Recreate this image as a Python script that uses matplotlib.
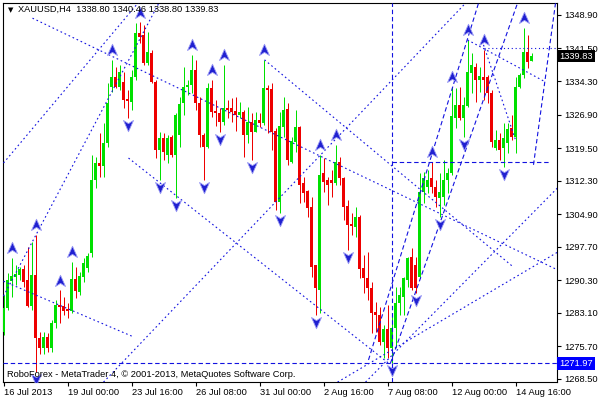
import numpy as np
import matplotlib
matplotlib.use("Agg")
import matplotlib.pyplot as plt
from matplotlib.path import Path
from matplotlib.transforms import ScaledTranslation, blended_transform_factory

# XAUUSD H4 candles, 16 Jul 2013 08:00 -> 15 Aug 2013 08:00
opens = [1278.9, 1284.2, 1290.1, 1291.0, 1291.5, 1292.8, 1290.3, 1284.6, 1291.5, 1277.5,
         1275.3, 1277.8, 1275.3, 1280.9, 1284.8, 1284.6, 1283.9, 1283.5, 1290.6, 1287.7,
         1291.0, 1293.0, 1296.3, 1312.4, 1316.2, 1315.5, 1320.6, 1333.0, 1335.2, 1333.0,
         1334.1, 1330.3, 1329.7, 1335.2, 1344.9, 1344.5, 1338.3, 1340.5, 1334.1, 1319.1,
         1321.7, 1317.9, 1321.9, 1317.9, 1322.4, 1329.5, 1333.0, 1333.4, 1336.7, 1329.5,
         1322.4, 1319.7, 1332.8, 1327.7, 1327.2, 1325.2, 1328.3, 1328.3, 1327.7, 1326.8,
         1327.5, 1322.4, 1325.2, 1323.1, 1325.7, 1325.0, 1332.8, 1332.6, 1323.3, 1307.6,
         1324.2, 1328.1, 1316.4, 1320.8, 1324.2, 1311.8, 1310.0, 1306.5, 1293.7, 1288.1,
         1314.0, 1312.4, 1312.4, 1311.8, 1316.4, 1312.9, 1306.7, 1302.7, 1302.1, 1304.3,
         1293.0, 1290.8, 1288.6, 1283.3, 1282.6, 1276.7, 1279.5, 1275.3, 1279.7, 1285.3,
         1286.6, 1290.3, 1295.4, 1293.7, 1291.0, 1309.8, 1310.9, 1312.9, 1310.9, 1308.5,
         1308.7, 1312.4, 1314.0, 1326.1, 1329.0, 1326.1, 1328.8, 1336.1, 1337.4, 1334.5,
         1335.2, 1335.2, 1331.7, 1319.5, 1321.3, 1319.5, 1320.6, 1323.9, 1321.9, 1333.0,
         1335.6, 1340.7, 1338.80]
highs = [1287.0, 1291.9, 1295.2, 1293.7, 1293.2, 1293.7, 1297.6, 1298.8, 1300.3, 1278.9,
         1278.9, 1278.7, 1281.5, 1285.9, 1288.1, 1286.6, 1285.3, 1294.3, 1293.2, 1292.1,
         1295.2, 1296.3, 1318.0, 1317.5, 1322.8, 1325.0, 1333.9, 1339.0, 1337.4, 1337.8,
         1336.3, 1332.3, 1336.7, 1347.1, 1347.3, 1346.7, 1345.1, 1341.2, 1334.5, 1323.1,
         1322.8, 1322.4, 1322.4, 1327.2, 1330.8, 1337.4, 1334.5, 1340.1, 1339.0, 1330.8,
         1322.8, 1333.9, 1334.6, 1330.1, 1328.3, 1337.9, 1330.1, 1330.6, 1330.8, 1329.7,
         1327.9, 1328.6, 1327.2, 1327.5, 1327.2, 1339.0, 1333.4, 1333.9, 1323.9, 1327.5,
         1330.8, 1329.5, 1321.9, 1327.9, 1324.4, 1313.1, 1310.2, 1308.7, 1293.7, 1318.0,
         1317.3, 1313.1, 1314.7, 1320.2, 1317.5, 1313.1, 1308.0, 1305.2, 1306.5, 1304.7,
         1295.9, 1296.5, 1289.9, 1285.5, 1284.4, 1280.4, 1284.8, 1282.6, 1288.8, 1288.8,
         1291.0, 1295.4, 1297.4, 1295.4, 1314.0, 1314.2, 1314.7, 1316.4, 1312.4, 1314.0,
         1316.9, 1315.1, 1333.0, 1332.8, 1333.0, 1330.8, 1343.4, 1340.5, 1338.3, 1337.4,
         1341.2, 1335.6, 1332.3, 1323.5, 1322.8, 1325.0, 1325.0, 1326.8, 1335.2, 1336.1,
         1346.0, 1344.5, 1340.46]
lows = [1278.2, 1283.7, 1286.6, 1289.2, 1290.3, 1288.8, 1284.4, 1283.7, 1270.0, 1274.0,
        1274.0, 1274.5, 1274.5, 1279.7, 1280.9, 1282.6, 1282.0, 1283.1, 1286.4, 1287.0,
        1289.9, 1292.1, 1295.4, 1310.7, 1313.1, 1313.1, 1319.7, 1331.9, 1332.8, 1332.3,
        1328.3, 1326.1, 1327.9, 1334.5, 1342.7, 1337.9, 1337.9, 1333.9, 1317.3, 1312.4,
        1316.9, 1316.2, 1317.5, 1308.5, 1319.7, 1326.8, 1331.2, 1331.7, 1327.9, 1319.7,
        1312.4, 1319.5, 1326.4, 1324.4, 1323.1, 1324.6, 1326.1, 1325.2, 1323.3, 1326.1,
        1317.5, 1320.6, 1316.9, 1323.1, 1324.2, 1324.6, 1322.8, 1319.1, 1305.8, 1305.2,
        1321.9, 1315.8, 1316.2, 1318.6, 1307.4, 1307.6, 1304.3, 1291.0, 1282.6, 1283.1,
        1309.8, 1306.9, 1308.7, 1311.3, 1311.3, 1303.6, 1297.0, 1300.3, 1299.9, 1290.8,
        1287.5, 1285.9, 1278.6, 1278.9, 1276.0, 1273.1, 1273.1, 1271.97, 1275.6, 1282.6,
        1282.6, 1288.8, 1288.1, 1287.5, 1290.8, 1307.4, 1309.6, 1309.6, 1306.5, 1304.3,
        1306.9, 1309.6, 1313.6, 1323.9, 1325.7, 1321.9, 1328.6, 1331.7, 1329.7, 1331.9,
        1330.1, 1329.5, 1319.7, 1319.1, 1316.9, 1315.3, 1318.4, 1321.3, 1318.4, 1332.8,
        1335.0, 1337.2, 1338.80]
closes = [1284.2, 1290.3, 1291.2, 1291.7, 1292.8, 1289.9, 1284.6, 1291.5, 1277.5, 1275.3,
          1277.8, 1275.3, 1280.9, 1284.8, 1284.4, 1283.5, 1283.5, 1290.6, 1287.9, 1291.2,
          1294.1, 1295.6, 1312.4, 1316.2, 1315.5, 1320.6, 1329.5, 1335.2, 1333.0, 1336.3,
          1330.1, 1329.9, 1335.2, 1344.9, 1344.0, 1338.3, 1340.7, 1334.1, 1319.1, 1321.7,
          1318.6, 1321.7, 1317.9, 1326.8, 1329.2, 1333.0, 1333.4, 1336.7, 1329.5, 1322.4,
          1319.7, 1332.8, 1327.5, 1327.2, 1325.2, 1328.3, 1327.9, 1327.5, 1326.8, 1327.5,
          1322.4, 1325.2, 1323.1, 1325.7, 1325.0, 1332.8, 1332.3, 1323.1, 1307.6, 1324.4,
          1327.9, 1316.9, 1321.1, 1324.2, 1311.3, 1309.6, 1306.2, 1293.2, 1288.6, 1313.6,
          1312.0, 1311.3, 1311.8, 1316.4, 1312.9, 1306.5, 1302.5, 1302.3, 1304.3, 1292.8,
          1290.8, 1288.6, 1283.1, 1282.6, 1276.7, 1279.5, 1275.3, 1279.7, 1285.3, 1287.0,
          1290.8, 1295.2, 1288.6, 1288.6, 1309.8, 1312.9, 1312.4, 1310.9, 1308.7, 1309.8,
          1312.4, 1314.0, 1326.6, 1329.0, 1326.1, 1329.0, 1336.3, 1337.8, 1334.5, 1335.4,
          1334.5, 1331.7, 1320.8, 1321.3, 1319.1, 1321.7, 1323.7, 1321.9, 1333.0, 1335.6,
          1340.7, 1338.5, 1339.83]

date_ticks = [0, 16, 32, 48, 64, 80, 96, 112, 128]
date_labels = ["16 Jul 2013", "19 Jul 00:00", "23 Jul 16:00", "26 Jul 08:00",
               "31 Jul 00:00", "2 Aug 16:00", "7 Aug 08:00", "12 Aug 00:00", "14 Aug 16:00"]
price_ticks = [1348.90, 1341.50, 1334.30, 1326.90, 1319.50, 1312.30,
               1304.90, 1297.70, 1290.30, 1283.10, 1275.70, 1268.50]

up_fractals = [2, 8, 14, 17, 27, 34, 47, 52, 55, 65, 79, 83, 107, 112, 116, 120, 130]
down_fractals = [8, 31, 39, 43, 50, 54, 62, 69, 78, 86, 97, 103, 109, 115, 125]

# trend lines as (bar, price) anchors
dotted_lines = [
    ((7.25, 1348.2), (138.5, 1292.6)),
    ((65.25, 1339.0), (127.5, 1293.2)),
    ((0, 1316.2), (34.25, 1352.2)),
    ((0, 1286.8), (39.25, 1352.2)),
    ((0, 1290.1), (32.5, 1277.8)),
    ((25, 1267.8), (116.25, 1352.2)),
    ((31.25, 1317.3), (96.25, 1272.0)),
    ((90.5, 1267.8), (138.5, 1310.7)),
    ((83.5, 1267.8), (138.5, 1296.5)),
    ((120, 1342.3), (128, 1321.3)),
    ((116, 1343.4), (135.5, 1334.1)),
]
dashed_lines = [
    ((91.25, 1272.7), (118.75, 1351.5)),
    ((96.75, 1272.0), (128.5, 1351.5)),
    ((132.5, 1315.8), (138, 1351.5)),
    ((97, 1316.4), (136.25, 1316.4)),
]
low_bar = 97
low_level = 1271.97
high_level = 1341.5
high_from = 120
last_price = 1339.83

title = "XAUUSD,H4  1338.80 1340.46 1338.80 1339.83"
footer = "RoboForex - MetaTrader 4, © 2001-2013, MetaQuotes Software Corp."

plt.rcParams["font.family"] = ["Liberation Sans", "DejaVu Sans"]
line_blue = "#1212e0"
fs = 6.7

fig = plt.figure(figsize=(6, 4), dpi=100)
ax = fig.add_axes([2.5 / 600, 18 / 400, 554.5 / 600, 379.5 / 400])
# 4 px per bar, bar centres on half-pixels so 1 px wicks stay crisp
ax.set_xlim(-0.25, 138.375)
ax.set_ylim(1267.83, 1351.66)

o = np.array(opens)
h = np.array(highs)
l = np.array(lows)
c = np.array(closes)
bars = np.arange(len(o))
col = np.where(c >= o, "#00e000", "#ee0000")

ax.vlines(bars, l, h, colors=col, lw=0.72, zorder=3)
ax.bar(bars, np.maximum(np.abs(c - o), 0.2), bottom=np.minimum(o, c),
       width=0.75, color=col, lw=0, zorder=3)

for (x0, y0), (x1, y1) in dotted_lines:
    ax.plot([x0, x1], [y0, y1], color=line_blue, lw=0.8, ls=(0, (1.5, 2.5)), zorder=4)
for (x0, y0), (x1, y1) in dashed_lines:
    ax.plot([x0, x1], [y0, y1], color=line_blue, lw=0.8, ls=(0, (4, 2.5)), zorder=4)
ax.axvline(low_bar, color=line_blue, lw=0.8, ls=(0, (4, 2.5)), zorder=4)
ax.axhline(low_level, color=line_blue, lw=0.8, ls=(0, (4, 2.5)), zorder=4)
ax.plot([high_from, 138.5], [high_level, high_level], color=line_blue, lw=0.8,
        ls=(0, (1, 2.5)), zorder=4)

# fractal arrows
up_arrow = Path([(0, 1), (0.8, -0.8), (0, -0.3), (-0.8, -0.8), (0, 1)],
                [Path.MOVETO, Path.LINETO, Path.LINETO, Path.LINETO, Path.CLOSEPOLY])
down_arrow = Path([(0, -1), (0.8, 0.8), (0, 0.3), (-0.8, 0.8), (0, -1)],
                  [Path.MOVETO, Path.LINETO, Path.LINETO, Path.LINETO, Path.CLOSEPOLY])
up_tr = ax.transData + ScaledTranslation(0, 7 / 72, fig.dpi_scale_trans)
down_tr = ax.transData + ScaledTranslation(0, -5 / 72, fig.dpi_scale_trans)
ax.plot(up_fractals, h[up_fractals], ls="none", marker=up_arrow, ms=9,
        mfc="#2020d0", mec="#9a9af5", mew=0.6, transform=up_tr, zorder=5)
ax.plot(down_fractals, l[down_fractals], ls="none", marker=down_arrow, ms=9,
        mfc="#2020d0", mec="#9a9af5", mew=0.6, transform=down_tr, zorder=5)

# axes and ticks
for sp in ax.spines.values():
    sp.set_color("black")
    sp.set_linewidth(0.8)
ax.yaxis.tick_right()
ax.set_yticks(price_ticks)
ax.set_yticklabels([f"{v:.2f}" for v in price_ticks])
ax.set_xticks(date_ticks)
ax.set_xticklabels(date_labels, ha="left")
ax.tick_params(axis="y", length=3, width=0.8, pad=2, labelsize=fs)
ax.tick_params(axis="x", length=3, width=0.8, pad=1.5, labelsize=fs)

ax.text(0.009, 0.981, "▼", transform=ax.transAxes, fontsize=5,
        family="DejaVu Sans", va="center", ha="left", zorder=6)
ax.text(0.028, 0.981, title, transform=ax.transAxes, fontsize=fs,
        va="center", ha="left", zorder=6)
ax.text(0.008, 0.019, footer, transform=ax.transAxes, fontsize=fs,
        va="center", ha="left", zorder=6)

# price tags on the scale (the last-price tag sits over the 1341.50 label, as in MT4)
tr = blended_transform_factory(ax.transAxes, ax.transData)
ax.text(1.004, last_price, f"{last_price:.2f}", transform=tr, color="white",
        fontsize=fs, va="center", ha="left", clip_on=False, zorder=6,
        bbox=dict(boxstyle="square,pad=0.2", fc="black", ec="none"))
ax.text(1.004, low_level, f"{low_level:.2f}", transform=tr, color="white",
        fontsize=fs, va="center", ha="left", clip_on=False, zorder=6,
        bbox=dict(boxstyle="square,pad=0.2", fc="#0000ff", ec="none"))

fig.savefig("out.png", dpi=100)
